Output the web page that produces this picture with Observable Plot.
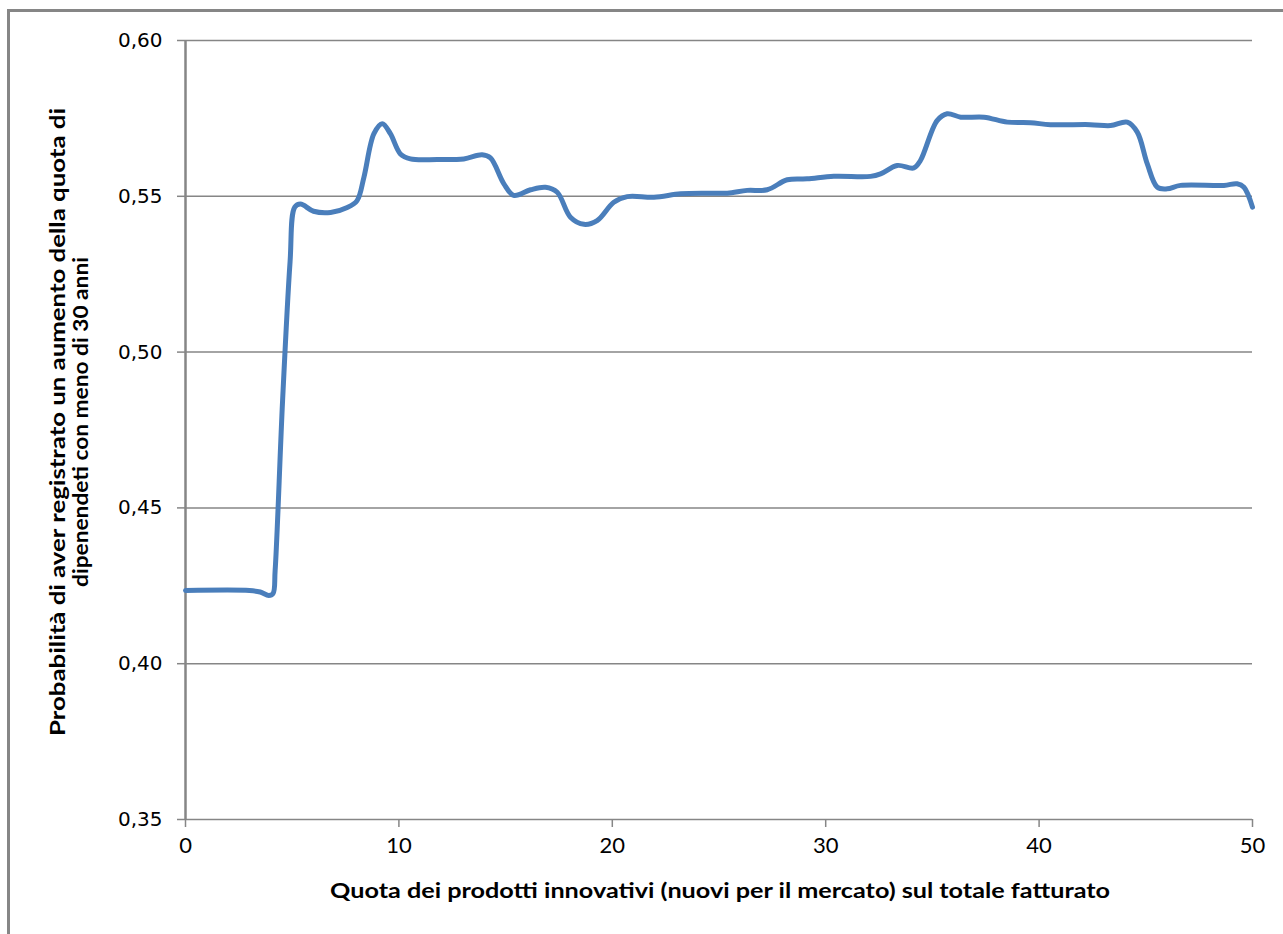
<!DOCTYPE html>
<html><head><meta charset="utf-8">
<script src="https://cdn.jsdelivr.net/npm/d3@7"></script>
<script src="https://cdn.jsdelivr.net/npm/@observablehq/plot@0.6"></script>
<style>
body{margin:0;background:#fff;}
#wrap{position:relative;width:1283px;height:934px;overflow:hidden;background:#fff}
#wrap svg{position:absolute;left:0;top:0}
#frame{position:absolute;left:7px;top:9px;width:1300px;height:960px;border-top:3px solid #868686;border-left:3px solid #868686;pointer-events:none}
</style>
</head><body><div id="wrap"><div id="frame"></div></div>
<script>
const xValues = [0, 3.0, 3.5, 3.9, 4.1, 4.2, 4.55, 4.9, 5.12, 5.39, 6.0, 6.8, 7.58, 8.04, 8.36, 8.83, 9.22, 9.6, 10.07, 10.54, 11.79, 13.04, 13.9, 14.29, 14.92, 15.38, 16.17, 16.87, 17.42, 18.04, 18.67, 19.29, 20.07, 20.7, 21.95, 23.2, 24.45, 25.39, 26.32, 27.26, 28.2, 29.13, 30.38, 32.1, 32.57, 33.35, 34.13, 34.44, 35.22, 35.69, 36.33, 37.42, 38.51, 39.6, 40.53, 42.4, 43.35, 44.13, 44.6, 45.07, 45.54, 46.0, 46.63, 48.66, 49.28, 49.6, 50.0];
const yValues = [0.4235, 0.4235, 0.4230, 0.4219, 0.4225, 0.4299, 0.4845, 0.5290, 0.5465, 0.5475, 0.5452, 0.5448, 0.5464, 0.5486, 0.5561, 0.5701, 0.5733, 0.5701, 0.5636, 0.5620, 0.5618, 0.5620, 0.5633, 0.5623, 0.5540, 0.5503, 0.5521, 0.5529, 0.5513, 0.5433, 0.5410, 0.5422, 0.5481, 0.5499, 0.5497, 0.5508, 0.5510, 0.5510, 0.5519, 0.5521, 0.5553, 0.5556, 0.5564, 0.5564, 0.5572, 0.5599, 0.5591, 0.5615, 0.5743, 0.5765, 0.5754, 0.5754, 0.5738, 0.5736, 0.5730, 0.5730, 0.5727, 0.5738, 0.5706, 0.5604, 0.5529, 0.5524, 0.5535, 0.5535, 0.5540, 0.5529, 0.5465];
const xTicks = [0, 10, 20, 30, 40, 50];
const yTicks = [0.35, 0.40, 0.45, 0.50, 0.55, 0.60];
const xTitle = "Quota dei prodotti innovativi (nuovi per il mercato) sul totale fatturato";
const yTitleLine1 = "Probabilità di aver registrato un aumento della quota di";
const yTitleLine2 = "dipenendeti con meno di 30 anni";

const data = xValues.map((x, i) => ({x, y: yValues[i]}));
const fmt = d => d.toFixed(2).replace(".", ",");
const gray = "#868686";

const chart = Plot.plot({
  width: 1283, height: 934,
  marginLeft: 185, marginRight: 31, marginTop: 40, marginBottom: 115,
  style: {background: "transparent", color: "#000", overflow: "visible"},
  x: {domain: [0, 50]},
  y: {domain: [0.35, 0.60]},
  marks: [
    Plot.gridY(yTicks, {stroke: gray, strokeOpacity: 1, strokeWidth: 1.5}),
    Plot.ruleX([0], {stroke: gray, strokeWidth: 2.5}),
    Plot.axisY(yTicks, {tickSize: 8, tickPadding: 15, tickFormat: fmt, stroke: gray, strokeWidth: 1.5, fontSize: 20, fontFamily: "DejaVu Sans", fill: "#000", label: null}),
    Plot.axisX(xTicks, {tickSize: 8, tickPadding: 10, stroke: gray, strokeWidth: 1.5, fontSize: 22, fontFamily: "Lato", fill: "#000", label: null}),
    Plot.line(data, {x: "x", y: "y", stroke: "#4a7ebb", strokeWidth: 5, curve: "catmull-rom"})
  ]
});

const wrap = document.getElementById("wrap");
wrap.insertBefore(chart, wrap.firstChild);

const svg = d3.select(chart);
svg.append("text")
  .attr("x", 720).attr("y", 893)
  .attr("text-anchor", "middle").attr("dominant-baseline", "middle")
  .attr("font-family", "Lato").attr("font-weight", "bold").attr("font-size", 21)
  .attr("textLength", 780).attr("lengthAdjust", "spacingAndGlyphs")
  .attr("fill", "#000")
  .text(xTitle);
const yt = svg.append("g").attr("transform", "translate(71,422) rotate(-90)")
  .attr("font-family", "Lato").attr("font-weight", "bold").attr("font-size", 21).attr("fill", "#000");
yt.append("text").attr("x", 0).attr("y", -11)
  .attr("text-anchor", "middle").attr("dominant-baseline", "middle")
  .attr("textLength", 628).attr("lengthAdjust", "spacingAndGlyphs")
  .text(yTitleLine1);
yt.append("text").attr("x", 0).attr("y", 12)
  .attr("text-anchor", "middle").attr("dominant-baseline", "middle")
  .attr("textLength", 330).attr("lengthAdjust", "spacingAndGlyphs")
  .text(yTitleLine2);
</script>
</body></html>
